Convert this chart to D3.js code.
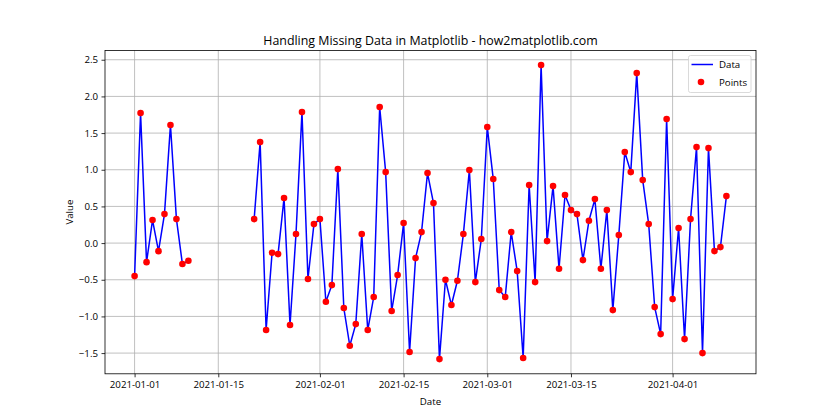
<!DOCTYPE html>
<html>
<head>
<meta charset="utf-8">
<script src="https://cdn.jsdelivr.net/npm/d3@7"></script>
<style>
  body { margin: 0; background: #fff; }
  svg { display: block; font-family: "Open Sans", "Noto Sans", sans-serif; }
</style>
</head>
<body>
<svg id="chart" width="840" height="420"></svg>
<script>
const startDate = "2021-01-01";
const values = [
  -0.45, 1.773, -0.26, 0.314, -0.11, 0.395, 1.61, 0.327, -0.286, -0.24,
  null, null, null, null, null, null, null, null, null, null,
  0.327, 1.377, -1.186, -0.132, -0.15, 0.614, -1.118, 0.123, 1.786, -0.49,
  0.259, 0.327, -0.80, -0.573, 1.009, -0.886, -1.40, -1.105, 0.123, -1.186,
  -0.736, 1.855, 0.968, -0.927, -0.436, 0.273, -1.486, -0.205, 0.15, 0.955,
  0.545, -1.582, -0.50, -0.845, -0.514, 0.123, 0.995, -0.532, 0.055, 1.582,
  0.873, -0.641, -0.736, 0.15, -0.382, -1.568, 0.791, -0.532, 2.427, 0.027,
  0.777, -0.35, 0.655, 0.45, 0.395, -0.232, 0.304, 0.60, -0.35, 0.45,
  -0.914, 0.109, 1.241, 0.968, 2.318, 0.859, 0.259, -0.873, -1.241, 1.691,
  -0.764, 0.205, -1.309, 0.327, 1.309, -1.50, 1.295, -0.109, -0.055, 0.641
];
const xTickLabels = ["2021-01-01", "2021-01-15", "2021-02-01", "2021-02-15", "2021-03-01", "2021-03-15", "2021-04-01"];
const yTickValues = [-1.5, -1.0, -0.5, 0.0, 0.5, 1.0, 1.5, 2.0, 2.5];
const titleText = "Handling Missing Data in Matplotlib - how2matplotlib.com";

const parse = d3.utcParse("%Y-%m-%d");
const start = parse(startDate);
const data = values.map((v, i) => ({ date: d3.utcDay.offset(start, i), v }));

const svg = d3.select("#chart");
const m = { left: 105, right: 756, top: 50.4, bottom: 373.8 };

const xExt = d3.extent(data, d => d.date);
const span = xExt[1] - xExt[0];
const x = d3.scaleUtc()
  .domain([new Date(+xExt[0] - span * 0.05), new Date(+xExt[1] + span * 0.05)])
  .range([m.left, m.right]);

const defined = data.filter(d => d.v != null);
const yExt = d3.extent(defined, d => d.v);
const ySpan = yExt[1] - yExt[0];
const y = d3.scaleLinear()
  .domain([yExt[0] - ySpan * 0.05, yExt[1] + ySpan * 0.05])
  .range([m.bottom, m.top]);

const xTicks = xTickLabels.map(s => parse(s));

const grid = svg.append("g");
grid.selectAll("line.vx").data(xTicks).join("line")
  .attr("x1", d => x(d)).attr("x2", d => x(d))
  .attr("y1", m.top).attr("y2", m.bottom)
  .attr("stroke", "#b0b0b0").attr("stroke-width", 0.8);
grid.selectAll("line.hy").data(yTickValues).join("line")
  .attr("x1", m.left).attr("x2", m.right)
  .attr("y1", d => y(d)).attr("y2", d => y(d))
  .attr("stroke", "#b0b0b0").attr("stroke-width", 0.8);

const line = d3.line()
  .defined(d => d.v != null)
  .x(d => x(d.date)).y(d => y(d.v));
svg.append("path").datum(data)
  .attr("d", line)
  .attr("fill", "none").attr("stroke", "#0000ff").attr("stroke-width", 1.5)
  .attr("stroke-linejoin", "round");

svg.append("g").selectAll("circle").data(defined).join("circle")
  .attr("cx", d => x(d.date)).attr("cy", d => y(d.v))
  .attr("r", 3.3).attr("fill", "#ff0000");

svg.append("rect")
  .attr("x", m.left).attr("y", m.top)
  .attr("width", m.right - m.left).attr("height", m.bottom - m.top)
  .attr("fill", "none").attr("stroke", "#000").attr("stroke-width", 0.8);

const fmtY = d3.format(".1f");
const xAxis = d3.axisBottom(x).tickValues(xTicks)
  .tickFormat(d3.utcFormat("%Y-%m-%d")).tickSize(3.5).tickPadding(3.5);
const gx = svg.append("g").attr("transform", `translate(0,${m.bottom})`).call(xAxis);
const yAxis = d3.axisLeft(y).tickValues(yTickValues)
  .tickFormat(fmtY).tickSize(3.5).tickPadding(3.5);
const gy = svg.append("g").attr("transform", `translate(${m.left},0)`).call(yAxis);
[gx, gy].forEach(g => {
  g.select(".domain").remove();
  g.selectAll(".tick line").attr("stroke", "#000").attr("stroke-width", 0.8);
  g.selectAll(".tick text").attr("fill", "#000")
    .style("font-family", "'Open Sans', 'Noto Sans', sans-serif").style("font-size", "9.7px");
});

svg.append("text").attr("x", (m.left + m.right) / 2).attr("y", 44.5)
  .attr("text-anchor", "middle").attr("font-size", 12.4).attr("fill", "#000")
  .text(titleText);
svg.append("text").attr("x", (m.left + m.right) / 2).attr("y", 405)
  .attr("text-anchor", "middle").attr("font-size", 9.7).attr("fill", "#000")
  .text("Date");
svg.append("text").attr("transform", `translate(73,${(m.top + m.bottom) / 2}) rotate(-90)`)
  .attr("text-anchor", "middle").attr("font-size", 9.7).attr("fill", "#000")
  .text("Value");

const lg = svg.append("g");
lg.append("rect").attr("x", 688.5).attr("y", 55.5).attr("width", 62.5).attr("height", 37)
  .attr("rx", 2).attr("fill", "#fff").attr("fill-opacity", 0.8)
  .attr("stroke", "#d0d0d0").attr("stroke-width", 0.8);
lg.append("line").attr("x1", 691.5).attr("x2", 713).attr("y1", 64.5).attr("y2", 64.5)
  .attr("stroke", "#0000ff").attr("stroke-width", 1.5);
lg.append("circle").attr("cx", 701).attr("cy", 82).attr("r", 3.3).attr("fill", "#ff0000");
lg.append("text").attr("x", 719).attr("y", 68).attr("font-size", 9.7).attr("fill", "#000").text("Data");
lg.append("text").attr("x", 719).attr("y", 85.5).attr("font-size", 9.7).attr("fill", "#000").text("Points");
</script>
</body>
</html>
